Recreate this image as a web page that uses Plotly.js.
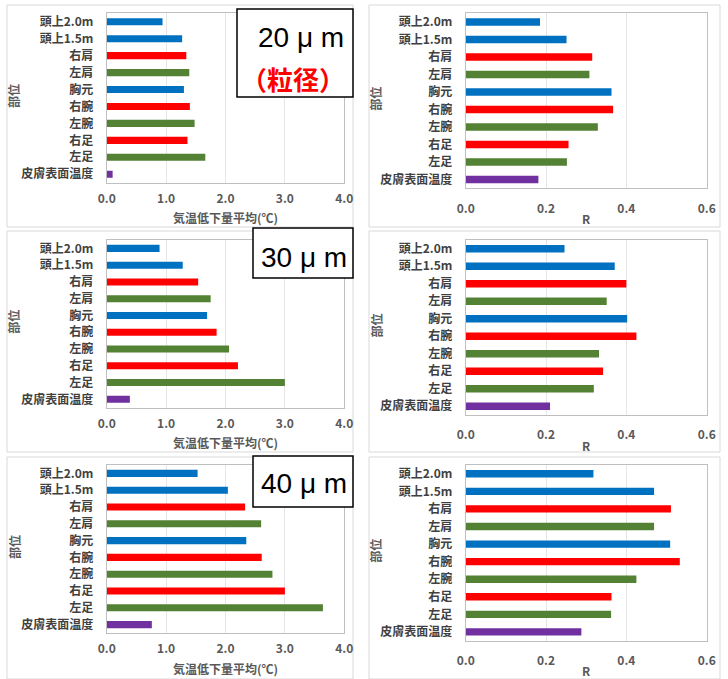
<!DOCTYPE html>
<html><head><meta charset="utf-8">
<script src="https://cdn.plot.ly/plotly-3.0.1.min.js"></script>
<style>body{margin:0;padding:0;background:#fff}</style>
</head><body>
<div id="chart" style="width:728px;height:679px"></div>
<script>
const categories = ['頭上2.0m','頭上1.5m','右肩','左肩','胸元','右腕','左腕','右足','左足','皮膚表面温度'];
const barColors = ['#0070C0','#0070C0','#FF0000','#548235','#0070C0','#FF0000','#548235','#FF0000','#548235','#7030A0'];
const drop20 = [0.94,1.27,1.34,1.39,1.30,1.40,1.48,1.36,1.66,0.10];
const r20    = [0.185,0.251,0.315,0.308,0.363,0.367,0.329,0.256,0.252,0.181];
const drop30 = [0.89,1.28,1.54,1.75,1.69,1.85,2.06,2.21,3.00,0.39];
const r30    = [0.246,0.371,0.400,0.351,0.402,0.425,0.332,0.342,0.319,0.210];
const drop40 = [1.53,2.04,2.33,2.60,2.35,2.61,2.79,3.00,3.64,0.76];
const r40    = [0.318,0.469,0.511,0.469,0.509,0.533,0.425,0.363,0.362,0.288];
const panelLabels = ['20 μ m','30 μ m','40 μ m'];
const subLabel = '（粒径）';
const xTitleLeft = '気温低下量平均(℃)';
const xTitleRight = 'R';
const yTitle = '部位';

const W = 728, H = 679;
const px = v => v / W;
const py = v => 1 - v / H;
const FONT = '"Noto Sans CJK JP", "Noto Sans", sans-serif';

// plot areas [x0,y0,x1,y1] in pixels and outer panel boxes
const plots = [
  [106.7, 13.3, 344.3, 182.7],
  [465.7, 13.3, 706.7, 188.3],
  [106.7, 240, 344.3, 407.7],
  [465.7, 240, 706.7, 415],
  [106.7, 465, 344.3, 633],
  [465.7, 465, 706.7, 640.7]
];
const outer = [
  [7, 5, 353, 227], [369, 5, 720, 227],
  [7, 231, 353, 452], [369, 231, 720, 452],
  [7, 457, 353, 679], [369, 457, 720, 679]
];
const series = [drop20, r20, drop30, r30, drop40, r40];

const data = [];
const layout = {
  width: W, height: H, margin: {l:0, r:0, t:0, b:0},
  paper_bgcolor: '#fff', plot_bgcolor: '#fff',
  showlegend: false, bargap: 0.58,
  font: {family: FONT, color: '#404040'},
  shapes: [], annotations: []
};

series.forEach((vals, i) => {
  const n = i + 1;
  const xa = n === 1 ? 'x' : 'x' + n;
  const ya = n === 1 ? 'y' : 'y' + n;
  const isLeft = i % 2 === 0;
  data.push({
    type: 'bar', orientation: 'h', x: vals, y: categories,
    xaxis: xa, yaxis: ya,
    marker: {color: barColors, line: {width: 0}},
    hoverinfo: 'x+y'
  });
  const p = plots[i];
  const xKey = n === 1 ? 'xaxis' : 'xaxis' + n;
  const yKey = n === 1 ? 'yaxis' : 'yaxis' + n;
  layout[xKey] = {
    domain: [px(p[0]), px(p[2])], anchor: ya,
    range: isLeft ? [0, 4] : [0, 0.6], dtick: isLeft ? 1 : 0.2,
    tickformat: '.1f', showgrid: true, gridcolor: '#e6e6e6', gridwidth: 1,
    zeroline: false, showline: true, mirror: true, linecolor: '#bfbfbf', linewidth: 1,
    ticks: '', ticklabelstandoff: isLeft ? 5 : 9,
    tickfont: {family: FONT, size: 12, color: '#595959', weight: 'bold'},
    fixedrange: true
  };
  layout[yKey] = {
    domain: [py(p[3]), py(p[1])], anchor: xa,
    type: 'category', autorange: 'reversed',
    showgrid: false, zeroline: false, showline: true, mirror: true,
    linecolor: '#bfbfbf', linewidth: 1, ticks: '', ticklabelstandoff: 10,
    tickfont: {family: FONT, size: 12, color: '#404040', weight: 'bold'},
    fixedrange: true
  };
  const o = outer[i];
  layout.shapes.push({type: 'rect', xref: 'paper', yref: 'paper',
    x0: px(o[0]), x1: px(o[2]), y0: py(o[3]), y1: py(o[1]),
    line: {color: '#d9d9d9', width: 1}, fillcolor: 'rgba(0,0,0,0)', layer: 'below'});
  // x axis title
  layout.annotations.push({xref: 'paper', yref: 'paper',
    x: px((p[0] + p[2]) / 2), y: py(p[3] + (isLeft ? 35 : 30)),
    xanchor: 'center', yanchor: 'middle', showarrow: false,
    text: isLeft ? xTitleLeft : xTitleRight,
    font: {family: FONT, size: 12, color: '#595959', weight: 'bold'}});
  // y axis title
  layout.annotations.push({xref: 'paper', yref: 'paper',
    x: px(o[0] + 7), y: py((p[1] + p[3]) / 2 - 2),
    xanchor: 'center', yanchor: 'middle', showarrow: false, textangle: -90,
    text: yTitle,
    font: {family: FONT, size: 12, color: '#595959', weight: 'bold'}});
});

// label boxes
const boxes = [[237, 9, 353, 97], [253, 228, 353, 278], [253, 456, 353, 507]];
boxes.forEach((b, i) => {
  layout.shapes.push({type: 'rect', xref: 'paper', yref: 'paper',
    x0: px(b[0]), x1: px(b[2]), y0: py(b[3]), y1: py(b[1]),
    line: {color: '#000', width: 1.5}, fillcolor: '#fff', layer: 'above'});
});
const labelPos = [[301, 37], [304, 257], [304, 483]];
panelLabels.forEach((t, i) => {
  layout.annotations.push({xref: 'paper', yref: 'paper',
    x: px(labelPos[i][0]), y: py(labelPos[i][1]), xanchor: 'center', yanchor: 'middle',
    showarrow: false, text: t,
    font: {family: '"Liberation Sans", Arial, sans-serif', size: 28, color: '#000'}});
});
layout.annotations.push({xref: 'paper', yref: 'paper',
  x: px(293), y: py(78), xanchor: 'center', yanchor: 'middle',
  showarrow: false, text: subLabel,
  font: {family: FONT, size: 26, color: '#FF0000', weight: 'bold'}});

Plotly.newPlot('chart', data, layout, {displayModeBar: false, staticPlot: true});
</script>
</body></html>
